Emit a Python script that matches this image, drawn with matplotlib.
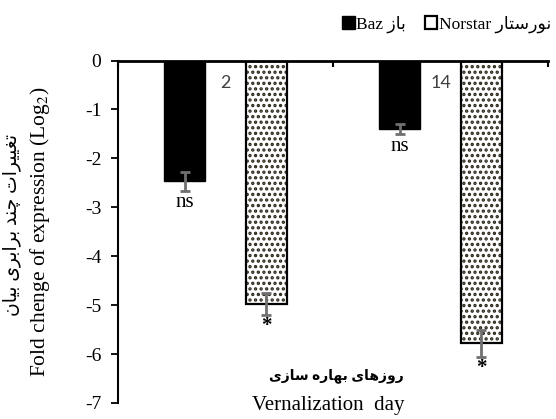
import numpy as np
import matplotlib
matplotlib.use('Agg')
from matplotlib import pyplot as plt

# data
days = ['2', '14']
baz = [-2.47, -1.40]
baz_err = [0.19, 0.11]
norstar = [-4.98, -5.78]
norstar_err = [0.23, 0.28]
baz_sig = ['ns', 'ns']
norstar_sig = ['*', '*']

# minimal Persian shaping (matplotlib 3.10 does not join/RTL Arabic script)
FORMS = {  # isolated, final, initial, medial
    'ا': ('\uFE8D', '\uFE8E', None, None),
    'ب': ('\uFE8F', '\uFE90', '\uFE91', '\uFE92'),
    'ت': ('\uFE95', '\uFE96', '\uFE97', '\uFE98'),
    'د': ('\uFEA9', '\uFEAA', None, None),
    'ر': ('\uFEAD', '\uFEAE', None, None),
    'ز': ('\uFEAF', '\uFEB0', None, None),
    'س': ('\uFEB1', '\uFEB2', '\uFEB3', '\uFEB4'),
    'غ': ('\uFECD', '\uFECE', '\uFECF', '\uFED0'),
    'ن': ('\uFEE5', '\uFEE6', '\uFEE7', '\uFEE8'),
    'ه': ('\uFEE9', '\uFEEA', '\uFEEB', '\uFEEC'),
    'و': ('\uFEED', '\uFEEE', None, None),
    'چ': ('\uFB7A', '\uFB7B', '\uFB7C', '\uFB7D'),
    'ی': ('\uFBFC', '\uFBFD', '\uFBFE', '\uFBFF'),
}


def fa(s):
    out = []
    for i, ch in enumerate(s):
        if ch not in FORMS:
            out.append(ch)
            continue
        prev = s[i - 1] if i > 0 else ''
        nxt = s[i + 1] if i + 1 < len(s) else ''
        jp = prev in FORMS and FORMS[prev][2] is not None
        jn = nxt in FORMS and FORMS[ch][2] is not None
        iso, fin, ini, med = FORMS[ch]
        if jp and jn:
            out.append(med)
        elif jp:
            out.append(fin)
        elif jn:
            out.append(ini)
        else:
            out.append(iso)
    return ''.join(reversed(out))


plt.rcParams['font.family'] = ['Liberation Serif', 'DejaVu Sans']
plt.rcParams['mathtext.fontset'] = 'stix'
plt.rcParams['hatch.linewidth'] = 1.6

fig = plt.figure(figsize=(5.56, 4.19), dpi=100)
ax = fig.add_axes([0.2122, 0.0382, 0.7734, 0.8174])

x = np.arange(len(days))
w = 0.19
off = 0.19
err_kw = dict(ecolor='#707070', elinewidth=2, capsize=3.6, capthick=2)

ax.bar(x - off, baz, w, color='black', edgecolor='black', label='Baz ' + fa('باز'),
       yerr=baz_err, error_kw=err_kw, zorder=2)
ax.bar(x + off, norstar, w, color='white', edgecolor='#2c2719', hatch='...', linewidth=0,
       zorder=2)
ax.bar(x + off, norstar, w, fill=False, edgecolor='black', linewidth=1.6,
       label='Norstar ' + fa('نورستار'), yerr=norstar_err, error_kw=err_kw, zorder=3)

for i in range(len(days)):
    ax.text(x[i] - off, baz[i] - baz_err[i] - 0.24, baz_sig[i], ha='center', va='center',
            fontsize=15)
    ax.text(x[i] + off, norstar[i] - norstar_err[i] - 0.22, norstar_sig[i], ha='center',
            va='center', fontsize=15, fontweight='bold')

ax.set_xlim(-0.5, 1.5)
ax.set_ylim(-7, 0)
ax.set_yticks(np.arange(-7, 1))
ax.set_yticklabels([str(v) for v in range(-7, 1)])
ax.tick_params(axis='y', direction='out', length=5, width=1.3, labelsize=14, pad=7)

ax.xaxis.tick_top()
ax.set_xticks(x)
ax.set_xticklabels(days, family='Lato', color='#404040', fontsize=13)
ax.tick_params(axis='x', which='major', length=0, pad=-22)
ax.set_xticks([-0.5, 0.5, 1.5], minor=True)
ax.tick_params(axis='x', which='minor', direction='in', length=4, width=1.5)

for s in ['bottom', 'right']:
    ax.spines[s].set_visible(False)
ax.spines['left'].set_linewidth(1.5)
ax.spines['top'].set_linewidth(2)

ax.text(-0.181, 0.5, 'Fold chenge of expression (Log$_2$)', transform=ax.transAxes,
        rotation=90, ha='center', va='center', fontsize=15.5)
ax.text(-0.2465, 0.52, fa('تغییرات چند برابری بیان'), transform=ax.transAxes,
        rotation=90, ha='center', va='center', fontsize=13.5)
ax.text(0.509, 0.079, fa('روزهای بهاره سازی'), transform=ax.transAxes,
        ha='center', va='center', fontsize=10, fontweight='bold')
ax.text(0.49, -0.006, 'Vernalization  day', transform=ax.transAxes,
        ha='center', va='center', fontsize=15)

ax.legend(loc='upper right', bbox_to_anchor=(1.02, 1.0), bbox_transform=fig.transFigure,
          ncol=2, frameon=False, handlelength=0.7, handleheight=0.7, handletextpad=0.1,
          columnspacing=1.1, fontsize=12.5)

fig.savefig('out.png', dpi=100)
